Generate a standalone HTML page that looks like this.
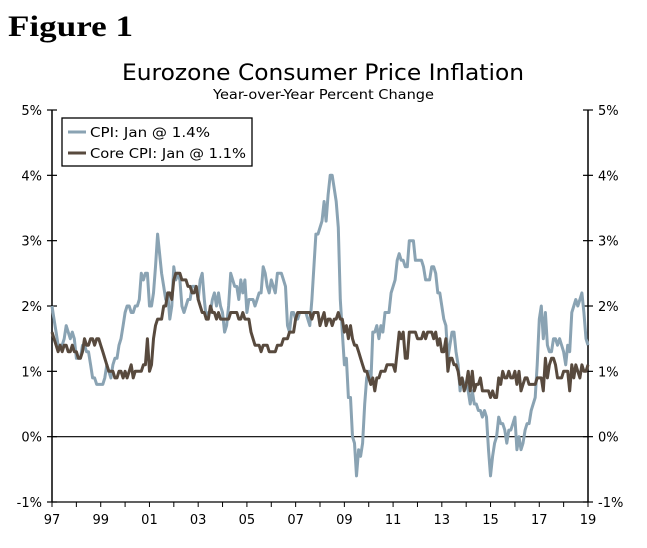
<!DOCTYPE html>
<html><head><meta charset="utf-8"><style>
body{margin:0;background:#fff;}
svg text{font-family:"DejaVu Sans","Liberation Sans",sans-serif;}
</style></head><body>
<svg width="647" height="543" id="chart">
<text x="8" y="36" style="font-family:'Liberation Serif',serif" font-weight="bold" font-size="30" textLength="125" lengthAdjust="spacingAndGlyphs">Figure 1</text>
<text x="122" y="80" font-size="22" textLength="402" lengthAdjust="spacingAndGlyphs">Eurozone Consumer Price Inflation</text>
<text x="213" y="99" font-size="13" textLength="221" lengthAdjust="spacingAndGlyphs">Year-over-Year Percent Change</text>
<g id="axes"></g>
<g id="series"></g>
<g>
<rect x="62" y="118" width="190" height="48" fill="#fff" stroke="#000" stroke-width="1.3"/>
<line x1="68" y1="132" x2="86" y2="132" stroke="#8aa3b3" stroke-width="3"/>
<text x="90" y="137" font-size="13" textLength="120" lengthAdjust="spacingAndGlyphs">CPI: Jan @ 1.4%</text>
<line x1="68" y1="153" x2="86" y2="153" stroke="#584a3e" stroke-width="3"/>
<text x="90" y="158" font-size="13" textLength="156" lengthAdjust="spacingAndGlyphs">Core CPI: Jan @ 1.1%</text>
</g>
</svg>
<script>
const yTicks=[5,4,3,2,1,0,-1];
const xTickLabels=["97","99","01","03","05","07","09","11","13","15","17","19"];
const xTickYears=[1997,1999,2001,2003,2005,2007,2009,2011,2013,2015,2017,2019];
const cpi=[2.0,1.8,1.6,1.4,1.4,1.4,1.5,1.7,1.6,1.5,1.6,1.5,
1.2,1.2,1.2,1.4,1.4,1.3,1.3,1.1,0.9,0.9,0.8,0.8,
0.8,0.8,0.9,1.1,1.0,0.9,1.1,1.2,1.2,1.4,1.5,1.7,
1.9,2.0,2.0,1.9,1.9,2.0,2.0,2.1,2.5,2.4,2.5,2.5,
2.0,2.0,2.2,2.6,3.1,2.8,2.5,2.3,2.1,2.2,1.8,2.0,
2.6,2.4,2.5,2.4,2.0,1.9,2.0,2.1,2.1,2.3,2.3,2.3,
2.1,2.4,2.5,2.1,1.8,1.9,1.9,2.1,2.2,2.0,2.2,2.0,
1.9,1.6,1.7,2.0,2.5,2.4,2.3,2.3,2.1,2.4,2.2,2.4,
1.9,2.1,2.1,2.1,2.0,2.1,2.2,2.2,2.6,2.5,2.3,2.2,
2.4,2.3,2.2,2.5,2.5,2.5,2.4,2.3,1.7,1.6,1.9,1.9,
1.8,1.8,1.9,1.9,1.9,1.9,1.8,1.7,2.1,2.6,3.1,3.1,
3.2,3.3,3.6,3.3,3.7,4.0,4.0,3.8,3.6,3.2,2.1,1.6,
1.1,1.2,0.6,0.6,0.0,-0.1,-0.6,-0.2,-0.3,-0.1,0.5,0.9,
1.0,0.8,1.6,1.6,1.7,1.5,1.7,1.6,1.9,1.9,1.9,2.2,
2.3,2.4,2.7,2.8,2.7,2.7,2.6,2.6,3.0,3.0,3.0,2.7,
2.7,2.7,2.7,2.6,2.4,2.4,2.4,2.6,2.6,2.5,2.2,2.2,
2.0,1.8,1.7,1.2,1.4,1.6,1.6,1.3,1.1,0.7,0.9,0.8,
0.8,0.7,0.5,0.7,0.5,0.5,0.4,0.4,0.3,0.4,0.3,-0.2,
-0.6,-0.3,-0.1,0.0,0.3,0.2,0.2,0.1,-0.1,0.1,0.1,0.2,
0.3,-0.2,0.0,-0.2,-0.1,0.1,0.2,0.2,0.4,0.5,0.6,1.1,
1.8,2.0,1.5,1.9,1.4,1.3,1.3,1.5,1.5,1.4,1.5,1.4,
1.3,1.1,1.4,1.3,1.9,2.0,2.1,2.0,2.1,2.2,1.9,1.5,
1.4];
const core=[1.6,1.5,1.4,1.3,1.4,1.3,1.4,1.4,1.3,1.3,1.4,1.3,
1.3,1.2,1.2,1.3,1.5,1.4,1.4,1.5,1.5,1.4,1.5,1.5,
1.4,1.3,1.2,1.1,1.0,1.0,1.0,0.9,0.9,1.0,1.0,0.9,
1.0,0.9,1.0,1.1,0.9,1.0,1.0,1.0,1.0,1.1,1.1,1.5,
1.0,1.1,1.5,1.7,1.8,1.8,1.8,2.0,2.0,2.2,2.2,2.1,
2.4,2.5,2.5,2.5,2.4,2.4,2.4,2.3,2.3,2.2,2.2,2.3,
2.1,2.0,1.9,1.9,1.8,1.8,2.0,1.9,1.9,1.8,1.9,1.8,
1.8,1.8,1.8,1.8,1.9,1.9,1.9,1.9,1.8,1.8,1.9,1.8,
1.8,1.8,1.6,1.5,1.4,1.4,1.4,1.3,1.4,1.4,1.4,1.3,
1.3,1.3,1.3,1.4,1.4,1.4,1.5,1.5,1.5,1.6,1.6,1.6,
1.8,1.9,1.9,1.9,1.9,1.9,1.9,1.9,1.8,1.9,1.9,1.9,
1.7,1.8,1.9,1.7,1.8,1.8,1.7,1.8,1.8,1.9,1.8,1.8,
1.6,1.7,1.5,1.7,1.5,1.4,1.4,1.3,1.2,1.1,1.0,1.0,
0.9,0.8,0.9,0.7,0.9,0.9,1.0,1.0,1.0,1.1,1.1,1.1,
1.1,1.0,1.3,1.6,1.5,1.6,1.2,1.2,1.6,1.6,1.6,1.6,
1.5,1.5,1.5,1.6,1.5,1.6,1.6,1.6,1.5,1.6,1.4,1.5,
1.3,1.3,1.5,1.0,1.2,1.2,1.1,1.1,1.0,0.8,0.9,0.7,
0.8,1.0,0.7,1.0,0.7,0.8,0.8,0.9,0.7,0.7,0.7,0.7,
0.6,0.7,0.6,0.6,0.9,0.8,1.0,0.9,0.9,1.0,0.9,0.9,
1.0,0.8,1.0,0.7,0.8,0.9,0.9,0.8,0.8,0.8,0.8,0.9,
0.9,0.9,0.7,1.2,0.9,1.1,1.2,1.2,1.1,0.9,0.9,0.9,
1.0,1.0,1.0,0.7,1.1,0.9,1.1,1.0,0.9,1.1,1.0,1.0,
1.1];
const startYear=1997;
const NS="http://www.w3.org/2000/svg";
const L=52,R=588,T=110,B=502;
function yS(v){return B-(v-(-1))/6*(B-T);}
function xS(yr){return L+(yr-1997)/22*(R-L);}
function mk(tag,attrs,parent){const e=document.createElementNS(NS,tag);for(const k in attrs)e.setAttribute(k,attrs[k]);parent.appendChild(e);return e;}
const axes=document.getElementById('axes');
let e;
e=mk('line',{x1:L,y1:T,x2:L,y2:B,stroke:'#000','stroke-width':1.5},axes);


e=mk('line',{x1:R,y1:T,x2:R,y2:B,stroke:'#000','stroke-width':1.5},axes);


e=mk('line',{x1:L,y1:yS(0),x2:R,y2:yS(0),stroke:'#000','stroke-width':1.2},axes);


e=mk('line',{x1:L,y1:B,x2:R,y2:B,stroke:'#000','stroke-width':1.2},axes);


yTicks.forEach(v=>{
 const y=yS(v);
 mk('line',{x1:L-5,y1:y,x2:L+5,y2:y,stroke:'#000','stroke-width':1.2},axes);
 mk('line',{x1:R-5,y1:y,x2:R+5,y2:y,stroke:'#000','stroke-width':1.2},axes);
 let t=mk('text',{x:L-10,y:y+5,'text-anchor':'end','font-size':13},axes);t.textContent=v+'%';
 
 
 t=mk('text',{x:R+10,y:y+5,'text-anchor':'start','font-size':13},axes);t.textContent=v+'%';
 
 
});
for(let yr=1997;yr<=2019;yr++){mk('line',{x1:xS(yr),y1:B,x2:xS(yr),y2:B+5,stroke:'#000','stroke-width':1},axes);}
xTickLabels.forEach((lab,i)=>{
 const t=mk('text',{x:xS(xTickYears[i]),y:B+22,'text-anchor':'middle','font-size':13},axes);
 t.textContent=lab;
 
 
});
const ser=document.getElementById('series');
function line(data,color,name){
 const d=data.map((v,i)=>(i?'L':'M')+xS(startYear+i/12).toFixed(1)+','+yS(v).toFixed(1)).join('');
 const p=mk('path',{d:d,fill:'none',stroke:color,'stroke-width':3,'stroke-linejoin':'round'},ser);
 
 
}
line(cpi,'#8aa3b3','cpi-line');
line(core,'#584a3e','core-cpi-line');
</script>
</body></html>
